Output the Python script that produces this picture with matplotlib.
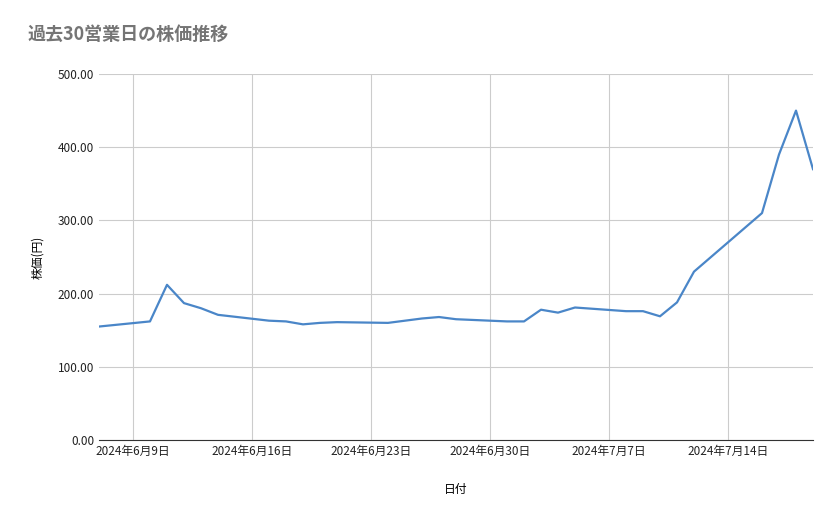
import matplotlib
matplotlib.use("Agg")
import matplotlib.pyplot as plt
import pandas as pd

plt.rcParams['font.family'] = ['Noto Sans CJK JP', 'DejaVu Sans']

dates = ["2024-06-07","2024-06-10","2024-06-11","2024-06-12","2024-06-13","2024-06-14",
         "2024-06-17","2024-06-18","2024-06-19","2024-06-20","2024-06-21",
         "2024-06-24","2024-06-25","2024-06-26","2024-06-27","2024-06-28",
         "2024-07-01","2024-07-02","2024-07-03","2024-07-04","2024-07-05",
         "2024-07-08","2024-07-09","2024-07-10","2024-07-11","2024-07-12",
         "2024-07-16","2024-07-17","2024-07-18","2024-07-19"]
prices = [155,162,212,187,180,171,163,162,158,160,161,160,163,166,168,165,
          162,162,178,174,181,176,176,169,188,230,310,390,450,370]
tick_dates = ["2024-06-09","2024-06-16","2024-06-23","2024-06-30","2024-07-07","2024-07-14"]
tick_labels = ["2024年6月9日","2024年6月16日","2024年6月23日","2024年6月30日","2024年7月7日","2024年7月14日"]
yticks = [0,100,200,300,400,500]

x = pd.to_datetime(dates)
fig = plt.figure(figsize=(8.39,5.19), dpi=100)
ax = fig.add_axes([99/839, 1-440/519, (813-99)/839, (440-74)/519])
ax.plot(x, prices, color='#4a86c8', lw=1.6)
ax.set_xlim(x[0], x[-1])
ax.set_ylim(0, 500)
ax.set_yticks(yticks)
ax.set_yticklabels([f"{v:.2f}" for v in yticks], fontsize=8.5, color='#222')
ax.set_xticks(pd.to_datetime(tick_dates))
ax.set_xticklabels(tick_labels, fontsize=8.5, color='#222')
ax.grid(True, color='#cccccc', lw=0.8)
ax.tick_params(length=0)
for s in ['top','right','left']:
    ax.spines[s].set_visible(False)
ax.spines['bottom'].set_color('#333')
ax.set_xlabel("日付", fontsize=8.5, labelpad=18)
ax.set_ylabel("株価(円)", fontsize=8.5, labelpad=10)
fig.text(27/839, 1-40/519, "過去30営業日の株価推移", fontsize=13, color='#757575', fontweight='bold')
fig.savefig("out.png")
